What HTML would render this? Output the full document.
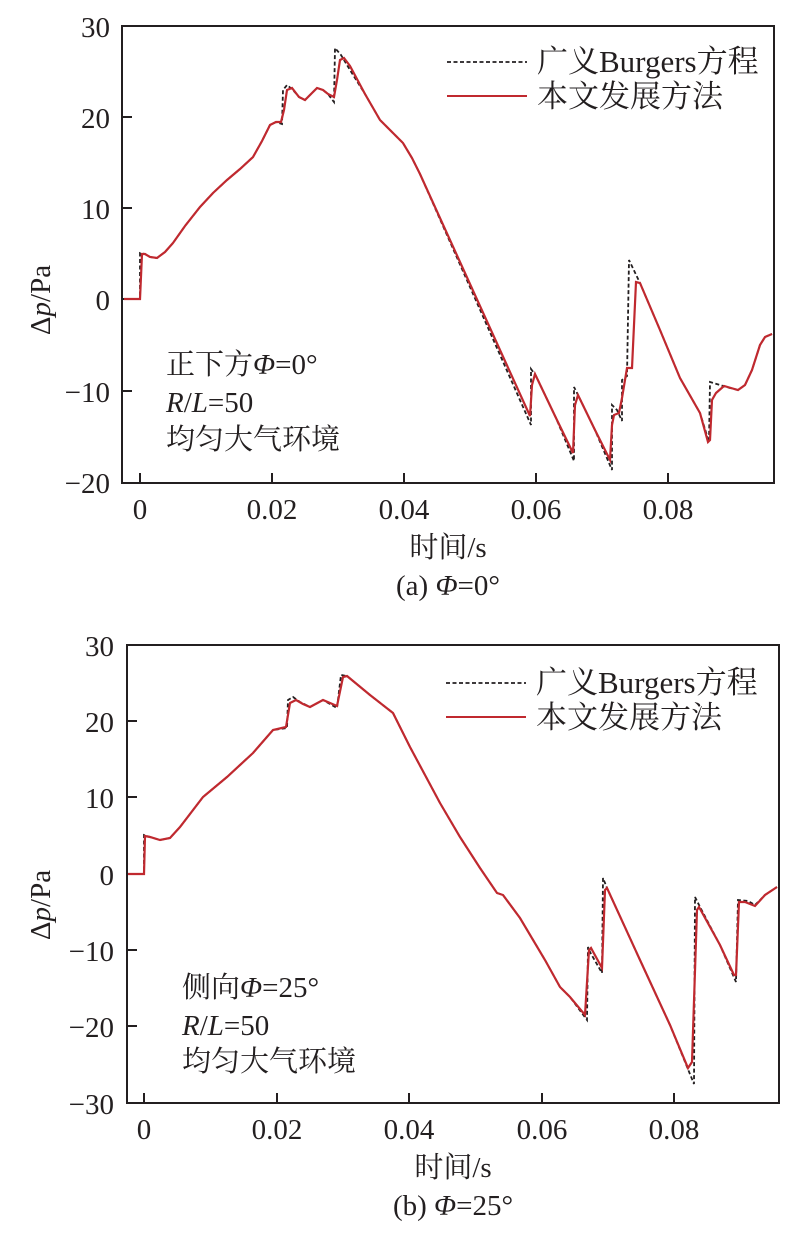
<!DOCTYPE html>
<html><head><meta charset="utf-8"><style>
html,body{margin:0;padding:0;background:#fff;}
svg{display:block;}
text{font-family:"Liberation Serif","Noto Serif CJK SC",serif;fill:#231f20;}
</style></head><body>
<svg width="811" height="1242" viewBox="0 0 811 1242" xmlns="http://www.w3.org/2000/svg">
<!-- TOP PLOT -->
<g font-size="29">
<rect x="122" y="26" width="652" height="457" fill="none" stroke="#231f20" stroke-width="2"/>
<g stroke="#231f20" stroke-width="2">
<line x1="122" y1="26" x2="132" y2="26"/><line x1="122" y1="117" x2="132" y2="117"/><line x1="122" y1="208" x2="132" y2="208"/><line x1="122" y1="299" x2="132" y2="299"/><line x1="122" y1="391" x2="132" y2="391"/>
<line x1="140" y1="483" x2="140" y2="473"/><line x1="272" y1="483" x2="272" y2="473"/><line x1="404" y1="483" x2="404" y2="473"/><line x1="536" y1="483" x2="536" y2="473"/><line x1="668" y1="483" x2="668" y2="473"/>
</g>
<g text-anchor="end">
<text x="110" y="37">30</text><text x="110" y="128">20</text><text x="110" y="219">10</text><text x="110" y="310">0</text><text x="110" y="402">−10</text><text x="110" y="493">−20</text>
</g>
<g text-anchor="middle">
<text x="140" y="519">0</text><text x="272" y="519">0.02</text><text x="404" y="519">0.04</text><text x="536" y="519">0.06</text><text x="668" y="519">0.08</text>
<text x="448" y="557">时间/s</text>
<text x="448" y="595">(a) <tspan font-style="italic">Φ</tspan>=0°</text>
</g>
<text transform="translate(50,300) rotate(-90)" text-anchor="middle">Δ<tspan font-style="italic">p</tspan>/Pa</text>
<text x="166" y="374">正下方<tspan font-style="italic">Φ</tspan>=0°</text>
<text x="166" y="412"><tspan font-style="italic">R</tspan>/<tspan font-style="italic">L</tspan>=50</text>
<text x="166" y="449">均匀大气环境</text>
<line x1="447" y1="62" x2="527" y2="62" stroke="#231f20" stroke-width="1.8" stroke-dasharray="4,2.5"/>
<line x1="447" y1="96" x2="527" y2="96" stroke="#c0292f" stroke-width="2"/>
<text x="537" y="72" font-size="31">广义Burgers方程</text>
<text x="537" y="107" font-size="31">本文发展方法</text>
<path fill="none" stroke="#231f20" stroke-width="1.8" stroke-dasharray="4,2.5" d="M124,299 L140,299 L140,253 L145,254 L150,257 L157,258 L165,252 L173,243 L185,226 L200,207 L213,193 L227,180 L240,169 L253,157 L262,141 L270,125 L276,122 L282,124 L283,90 L287,85 L293,90 L299,97 L305,100 L311,94 L317,88 L323,90 L328,94 L334,102 L335,48 L341,55 L350,70 L365,94 L380,120 L393,133 L403,143 L412,158 L420,174 L531,425 L531,369 L536,376 L556,418 L574,461 L574,387 L578,395 L595,430 L612,470 L612,405 L617,410 L622,421 L622,380 L627,376 L629,260 L640,283 L660,330 L680,378 L700,413 L709,442 L710,382 L720,385 L730,388 L738,390 L745,385 L752,370 L760,345 L765,337 L772,334"/>
<path fill="none" stroke="#c0292f" stroke-width="2.2" d="M124,299 L140,299 L142,254 L145,254 L150,257 L157,258 L165,252 L173,243 L185,226 L200,207 L213,193 L227,180 L240,169 L253,157 L262,141 L270,125 L276,122 L281,122 L284,110 L287,90 L292,88 L299,97 L305,100 L311,94 L317,88 L323,90 L328,94 L334,97 L337,80 L340,60 L344,58 L350,66 L365,94 L380,120 L393,133 L403,143 L412,158 L420,174 L530,416 L532,385 L535,374 L556,418 L573,453 L575,405 L578,395 L595,430 L610,460 L612,425 L614,415 L619,413 L622,398 L627,368 L632,368 L636,282 L640,283 L660,330 L680,378 L700,413 L708,442 L710,440 L712,400 L716,393 L724,386 L731,388 L738,390 L745,385 L752,370 L760,345 L765,337 L772,334"/>
</g>

<!-- BOTTOM PLOT -->
<g font-size="29">
<rect x="127" y="645" width="652" height="458" fill="none" stroke="#231f20" stroke-width="2"/>
<g stroke="#231f20" stroke-width="2">
<line x1="127" y1="645" x2="137" y2="645"/><line x1="127" y1="721" x2="137" y2="721"/><line x1="127" y1="797" x2="137" y2="797"/><line x1="127" y1="874" x2="137" y2="874"/><line x1="127" y1="950" x2="137" y2="950"/><line x1="127" y1="1026" x2="137" y2="1026"/>
<line x1="144" y1="1103" x2="144" y2="1093"/><line x1="277" y1="1103" x2="277" y2="1093"/><line x1="409" y1="1103" x2="409" y2="1093"/><line x1="542" y1="1103" x2="542" y2="1093"/><line x1="674" y1="1103" x2="674" y2="1093"/>
</g>
<g text-anchor="end">
<text x="114" y="656">30</text><text x="114" y="732">20</text><text x="114" y="808">10</text><text x="114" y="885">0</text><text x="114" y="961">−10</text><text x="114" y="1037">−20</text><text x="114" y="1114">−30</text>
</g>
<g text-anchor="middle">
<text x="144" y="1139">0</text><text x="277" y="1139">0.02</text><text x="409" y="1139">0.04</text><text x="542" y="1139">0.06</text><text x="674" y="1139">0.08</text>
<text x="453" y="1177">时间/s</text>
<text x="453" y="1215">(b) <tspan font-style="italic">Φ</tspan>=25°</text>
</g>
<text transform="translate(50,905) rotate(-90)" text-anchor="middle">Δ<tspan font-style="italic">p</tspan>/Pa</text>
<text x="182" y="997">侧向<tspan font-style="italic">Φ</tspan>=25°</text>
<text x="182" y="1035"><tspan font-style="italic">R</tspan>/<tspan font-style="italic">L</tspan>=50</text>
<text x="182" y="1071">均匀大气环境</text>
<line x1="446" y1="683" x2="526" y2="683" stroke="#231f20" stroke-width="1.8" stroke-dasharray="4,2.5"/>
<line x1="446" y1="717" x2="526" y2="717" stroke="#c0292f" stroke-width="2"/>
<text x="536" y="693" font-size="31">广义Burgers方程</text>
<text x="536" y="728" font-size="31">本文发展方法</text>
<path fill="none" stroke="#231f20" stroke-width="1.8" stroke-dasharray="4,2.5" d="M128,874 L144,874 L144,835 L150,837 L160,840 L170,838 L180,827 L203,797 L227,777 L253,753 L273,730 L287,728 L288,700 L293,697 L300,702 L310,707 L323,700 L337,708 L341,675 L347,676 L370,695 L393,713 L410,747 L440,803 L460,837 L480,868 L497,893 L503,895 L520,918 L545,960 L560,987 L570,997 L587,1020 L588,947 L590,952 L602,973 L603,878 L607,888 L640,960 L670,1025 L694,1084 L695,897 L700,907 L720,945 L736,982 L738,900 L748,901 L755,905 L765,895 L777,887"/>
<path fill="none" stroke="#c0292f" stroke-width="2.2" d="M128,874 L144,874 L145,836 L150,837 L160,840 L170,838 L180,827 L203,797 L227,777 L253,753 L273,730 L286,727 L290,703 L296,700 L303,704 L310,707 L323,700 L337,706 L343,677 L347,676 L370,695 L393,713 L410,747 L440,803 L460,837 L480,868 L497,893 L503,895 L520,918 L545,960 L560,987 L570,997 L585,1015 L589,950 L591,948 L602,968 L605,890 L607,888 L640,960 L670,1025 L688,1068 L692,1062 L697,910 L699,907 L720,945 L734,975 L736,975 L739,902 L745,902 L755,906 L765,895 L777,887"/>
</g>
</svg>
</body></html>
